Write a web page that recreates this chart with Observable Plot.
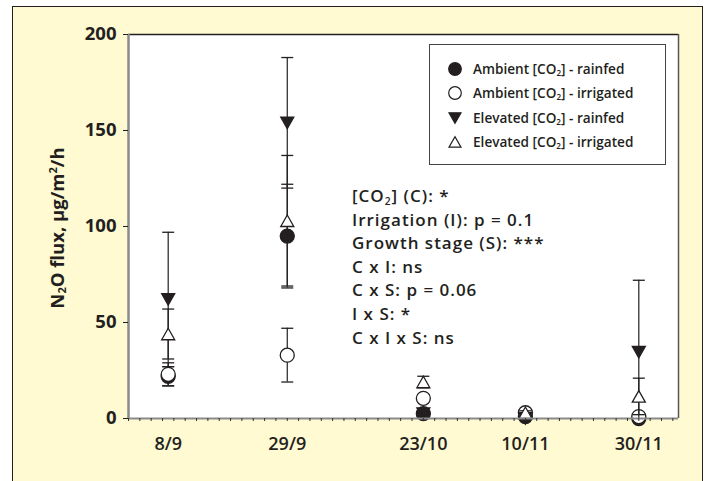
<!DOCTYPE html>
<html><head><meta charset="utf-8">
<script src="https://cdn.jsdelivr.net/npm/d3@7"></script>
<script src="https://cdn.jsdelivr.net/npm/@observablehq/plot@0.6"></script>
<style>
html,body{margin:0;padding:0;background:#fff;}
#wrap{position:relative;width:709px;height:481px;overflow:hidden;font-family:"Open Sans",sans-serif;color:#231f20;}
#box{position:absolute;left:12px;top:6px;width:691px;height:500px;background:#fffad2;border:1.5px solid #231f20;box-sizing:border-box;}
#chart{position:absolute;left:0;top:0;}
#legend{position:absolute;left:429px;top:44px;width:237px;height:121px;border:1.5px solid #444;background:#fff;box-sizing:border-box;padding-top:12px;}
.lrow{position:relative;height:24.3px;line-height:24.3px;font-size:13.6px;font-weight:600;white-space:nowrap;}
.lrow svg{position:absolute;left:17px;top:4px;}
.lrow span.t{position:absolute;left:43px;top:0;}
sub{font-size:0.6em;vertical-align:-0.25em;line-height:0;}
sup{font-size:0.6em;vertical-align:0.6em;line-height:0;}
#notes{position:absolute;left:352px;top:184px;font-size:17px;font-weight:600;line-height:23.6px;letter-spacing:1px;white-space:nowrap;}
#notes div{height:23.6px;}
#ylab{position:absolute;left:56px;top:228px;transform:translate(-50%,-50%) rotate(-90deg);font-size:18.5px;font-weight:700;white-space:nowrap;}
</style></head>
<body>
<div id="wrap">
  <div id="box"></div>
  <div id="chart"></div>
  <div id="ylab"></div>
  <div id="legend"></div>
  <div id="notes"></div>
</div>
<script>
// ---- data ----
const dates = ["2008-09-08", "2008-09-29", "2008-10-23", "2008-11-10", "2008-11-30"];
const dateLabels = ["8/9", "29/9", "23/10", "10/11", "30/11"];
const seriesNames = ["Ambient [CO<sub>2</sub>] - rainfed", "Ambient [CO<sub>2</sub>] - irrigated", "Elevated [CO<sub>2</sub>] - rainfed", "Elevated [CO<sub>2</sub>] - irrigated"];
const ambientRainfed      = [22, 95, 2.5, 1, 0];
const ambientRainfedSE    = [5, 27, 1, 0.5, 0.5];
const ambientIrrigated    = [23, 33, 10.5, 3, 1];
const ambientIrrigatedSE  = [6, 14, 2, 1, 1];
const elevatedRainfed     = [62, 154, 2.5, 0, 34.5];
const elevatedRainfedSE   = [35, 34, 1, 0.5, 37.5];
const elevatedIrrigated   = [44, 103, 19, 3, 11.5];
const elevatedIrrigatedSE = [13, 34, 3, 1, 9.5];
const yTicks = [0, 50, 100, 150, 200];
const xDomain = ["2008-09-01", "2008-12-07"];
const yLabel = "N<sub>2</sub>O flux, µg/m<sup>2</sup>/h";
const notes = ["[CO<sub>2</sub>] (C): *", "Irrigation (I): p = 0.1", "Growth stage (S): ***", "C x I: ns", "C x S: p = 0.06", "I x S: *", "C x I x S: ns"];

// ---- build ----
const parse = d3.utcParse("%Y-%m-%d");
const dateObjs = dates.map(parse);
const values = [ambientRainfed, ambientIrrigated, elevatedRainfed, elevatedIrrigated];
const errors = [ambientRainfedSE, ambientIrrigatedSE, elevatedRainfedSE, elevatedIrrigatedSE];
const rows = [];
values.forEach((vals, s) => vals.forEach((v, j) => rows.push({series: s, date: dateObjs[j], value: v, lo: v - errors[s][j], hi: v + errors[s][j]})));
const labelMap = new Map(dateObjs.map((d, i) => [+d, dateLabels[i]]));
const xDom = xDomain.map(parse);
const minorTicks = d3.utcDay.range(xDom[0], d3.utcDay.offset(xDom[1], 1), 2);

const ink = "#231f20";
const rOf = size => Math.sqrt(size / Math.PI);
const triDown = {draw(ctx, size) {const r = rOf(size), w = 0.93 * r, h = 1.64 * r; ctx.moveTo(-w, -h / 2); ctx.lineTo(w, -h / 2); ctx.lineTo(0, h / 2); ctx.closePath();}};
const triUp = {draw(ctx, size) {const r = rOf(size), w = 0.93 * r, h = 1.64 * r; ctx.moveTo(-w, h / 2); ctx.lineTo(w, h / 2); ctx.lineTo(0, -h / 2); ctx.closePath();}};
const cap = {draw(ctx, size) {ctx.moveTo(-6, 0); ctx.lineTo(6, 0);}};
const symbols = ["circle", "circle", triDown, triUp];
const fills = [ink, "white", ink, "white"];

const marks = [Plot.frame({fill: "white", stroke: null})];
values.forEach((_, s) => {
  const d = rows.filter(r => r.series === s);
  marks.push(Plot.ruleX(d, {x: "date", y1: "lo", y2: "hi", stroke: ink, strokeWidth: 1.2, clip: true}));
  marks.push(Plot.dot(d, {x: "date", y: "hi", symbol: cap, r: 5, fill: "none", stroke: ink, strokeWidth: 1.3, clip: true}));
  marks.push(Plot.dot(d, {x: "date", y: "lo", symbol: cap, r: 5, fill: "none", stroke: ink, strokeWidth: 1.3, clip: true}));
  marks.push(Plot.dot(d, {x: "date", y: "value", symbol: symbols[s], r: 7, fill: fills[s], stroke: ink, strokeWidth: 1.3}));
});
marks.push(
  Plot.ruleY([200], {stroke: ink, strokeWidth: 1.5}),
  Plot.ruleX([xDom[1]], {stroke: "#555", strokeWidth: 1.5}),
  Plot.ruleX([xDom[0]], {stroke: "#8a8a8a", strokeWidth: 2.5}),
  Plot.ruleY([0], {stroke: "#8a8a8a", strokeWidth: 2}),
  Plot.axisX({ticks: minorTicks, tickSize: 3, tickFormat: () => "", stroke: "#333", label: null}),
  Plot.axisX({ticks: dateObjs, tickSize: 0, tickPadding: 19, tickFormat: d => labelMap.get(+d), fontSize: 18, fontWeight: 600, fill: ink, label: null}),
  Plot.axisY({ticks: yTicks, tickSize: 5, tickPadding: 7, fontSize: 18.5, fontWeight: 700, fill: ink, stroke: ink, label: null})
);

const chart = Plot.plot({
  width: 709, height: 481,
  marginLeft: 128, marginRight: 31, marginTop: 34, marginBottom: 63,
  style: {background: "transparent", fontFamily: "'Open Sans', sans-serif", color: ink},
  x: {type: "utc", domain: xDom},
  y: {domain: [0, 200]},
  marks
});
document.getElementById("chart").appendChild(chart);

document.getElementById("ylab").innerHTML = yLabel;
document.getElementById("notes").innerHTML = notes.map(n => `<div>${n}</div>`).join("");
const legendSvgs = [
  `<svg width="16" height="16" viewBox="-8 -8 16 16"><circle r="6.3" fill="${ink}" stroke="${ink}" stroke-width="1.2"/></svg>`,
  `<svg width="16" height="16" viewBox="-8 -8 16 16"><circle r="6.3" fill="white" stroke="${ink}" stroke-width="1.2"/></svg>`,
  `<svg width="16" height="16" viewBox="-8 -8 16 16"><path d="M-6,-5.2L6,-5.2L0,5.2Z" fill="${ink}" stroke="${ink}" stroke-width="1.2"/></svg>`,
  `<svg width="16" height="16" viewBox="-8 -8 16 16"><path d="M-6,5.2L6,5.2L0,-5.2Z" fill="white" stroke="${ink}" stroke-width="1.2"/></svg>`
];
document.getElementById("legend").innerHTML = seriesNames.map((n, i) => `<div class="lrow">${legendSvgs[i]}<span class="t">${n}</span></div>`).join("");
</script>
</body></html>
